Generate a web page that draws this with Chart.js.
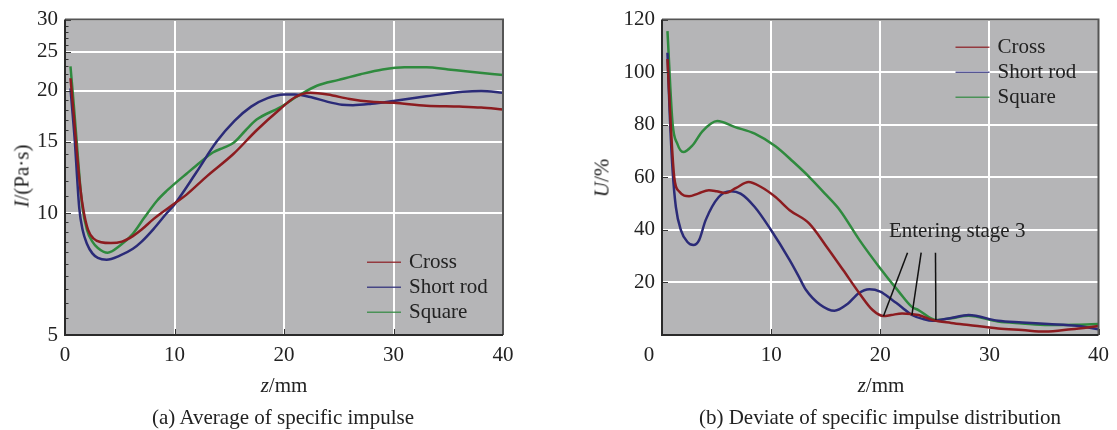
<!DOCTYPE html>
<html>
<head>
<meta charset="utf-8">
<script src="https://cdn.jsdelivr.net/npm/chart.js@4.4.0/dist/chart.umd.min.js"></script>
<style>
  body { margin: 0; background: #fff; }
  #fig { position: relative; width: 1117px; height: 430px; font-family: 'Liberation Serif', 'Times New Roman', serif; color: #222; }
  #fig canvas { position: absolute; top: 0; }
  .lbl { position: absolute; font-size: 21px; line-height: 1; white-space: nowrap; transform: translate(-50%, -50%); }
  .rot { transform: translate(-50%, -50%) rotate(-90deg); }
</style>
</head>
<body>
<div id="fig">
  <canvas id="chartA" width="558" height="430" style="left:0"></canvas>
  <canvas id="chartB" width="559" height="430" style="left:558px"></canvas>
  <div class="lbl rot" style="left:22px; top:176px"><i>I</i>/(Pa·s)</div>
  <div class="lbl" style="left:284px; top:385px"><i>z</i>/mm</div>
  <div class="lbl" style="left:283px; top:417px">(a) Average of specific impulse</div>
  <div class="lbl rot" style="left:602px; top:178px"><i>U</i>/%</div>
  <div class="lbl" style="left:881px; top:385px"><i>z</i>/mm</div>
  <div class="lbl" style="left:880px; top:417px">(b) Deviate of specific impulse distribution</div>
</div>
<script>
// axis ticks
const zTicks = [0, 10, 20, 30, 40];
const iTicks = [5, 10, 15, 20, 25, 30];
const uTicks = [0, 20, 40, 60, 80, 100, 120];

// (a) average specific impulse I (Pa·s) vs z (mm)
const zA_cross = [0.5, 0.8, 1.1, 1.4, 1.7, 2.1, 2.6, 3.3, 4.2, 5.2, 6.2, 7.0, 8.1, 10.0, 11.1, 13.0, 15.4, 17.5, 19.6, 21.0, 22.4, 24.0, 26.0, 28.0, 30.0, 33.0, 36.0, 38.0, 40.0];
const iA_cross = [21.5, 17.5, 14.0, 11.5, 10.1, 9.1, 8.65, 8.47, 8.43, 8.5, 8.77, 9.1, 9.67, 10.55, 11.1, 12.35, 14.0, 16.0, 18.0, 19.3, 19.8, 19.6, 19.1, 18.8, 18.7, 18.4, 18.3, 18.2, 18.0];

const zA_rod = [0.5, 0.7, 0.9, 1.1, 1.3, 1.6, 2.0, 2.5, 3.0, 3.8, 5.0, 6.2, 7.0, 8.1, 9.3, 10.0, 12.0, 13.85, 15.5, 17.0, 18.5, 20.0, 21.0, 22.5, 24.0, 25.3, 26.3, 28.0, 30.0, 33.0, 36.3, 38.0, 40.0];
const iA_rod = [20.3, 17.5, 15.0, 12.3, 10.3, 9.1, 8.4, 7.95, 7.75, 7.67, 7.85, 8.16, 8.5, 9.14, 10.0, 10.5, 12.6, 15.0, 16.9, 18.3, 19.2, 19.6, 19.6, 19.3, 18.8, 18.5, 18.45, 18.6, 18.9, 19.4, 19.9, 20.0, 19.8];

const zA_square = [0.5, 0.8, 1.07, 1.35, 1.6, 2.0, 2.5, 3.0, 3.9, 5.0, 6.2, 7.2, 8.4, 9.3, 10.0, 11.1, 12.3, 13.5, 14.5, 15.4, 16.5, 17.5, 19.6, 21.5, 23.0, 25.0, 27.0, 29.0, 31.0, 33.0, 35.0, 37.0, 40.0];
const iA_square = [23.0, 18.5, 15.0, 12.0, 10.3, 9.1, 8.5, 8.2, 7.98, 8.3, 8.89, 9.7, 10.72, 11.35, 11.8, 12.5, 13.3, 14.1, 14.5, 14.9, 16.0, 17.0, 18.2, 19.6, 20.6, 21.3, 22.0, 22.6, 22.9, 22.9, 22.6, 22.3, 21.9];

// (b) deviation U (%) vs z (mm)
const zB_cross = [0.5, 0.8, 1.12, 1.6, 2.48, 3.3, 4.3, 5.0, 5.8, 6.8, 7.94, 9.0, 10.4, 11.7, 13.5, 15.1, 16.6, 18.1, 19.3, 20.3, 21.0, 22.0, 23.5, 24.8, 26.5, 28.1, 30.8, 33.0, 35.1, 37.5, 40.0];
const uB_cross = [105, 80, 60.1, 54.5, 52.8, 53.8, 55.1, 54.7, 54.0, 56.0, 58.2, 56.5, 52.5, 47.5, 42.4, 33.5, 24.7, 15.8, 9.5, 7.2, 7.6, 8.2, 7.6, 5.7, 4.6, 3.8, 2.5, 1.9, 1.3, 2.2, 3.4];

const zB_rod = [0.5, 0.7, 0.97, 1.27, 1.73, 2.33, 2.88, 3.4, 4.0, 5.2, 6.27, 7.2, 8.5, 9.9, 11.7, 12.5, 13.2, 14.5, 15.8, 17.0, 18.0, 19.0, 20.0, 21.1, 22.0, 22.9, 24.0, 24.8, 26.5, 28.1, 30.8, 33.0, 35.4, 38.0, 40.0];
const uB_rod = [107.4, 85, 62.7, 48.7, 39.9, 35.4, 34.2, 36.1, 43.7, 52.5, 54.7, 53.8, 48.7, 40.5, 28.5, 22.5, 17.1, 11.5, 9.2, 11.8, 15.8, 17.4, 16.5, 13.3, 10.5, 7.6, 6.0, 5.4, 6.5, 7.6, 5.4, 4.8, 4.2, 3.5, 2.2];

const zB_square = [0.5, 0.97, 1.4, 1.94, 2.8, 3.7, 5.06, 6.7, 8.5, 10.4, 12.0, 13.5, 15.0, 16.3, 18.1, 19.9, 21.7, 22.9, 23.5, 25.1, 26.5, 28.1, 30.8, 33.0, 35.4, 38.0, 40.0];
const uB_square = [115.6, 80.4, 72.8, 69.6, 72.2, 77.5, 81.4, 79.1, 76.6, 71.8, 66, 60.1, 53.5, 47.5, 36.1, 25.9, 16.5, 10.7, 9.5, 5.7, 6.4, 7.3, 5.1, 4.4, 3.8, 3.9, 4.2];

// "Entering stage 3" callout: label position and where each leader starts (data units)
const stageText = 'Entering stage 3';
const stageLabelAt = [27.05, 39.2];
const stageLeaderTops = [[22.5, 31.3], [23.75, 31.3], [25.06, 31.3]];
const stageZ = [20.3, 22.9, 25.1]; // cross, short rod, square

const colCross = '#8c1c20';
const colRod = '#2b2b78';
const colSquare = '#2f8a3e';
const serif = "'Liberation Serif', 'Times New Roman', serif";
const tickFont = { family: serif, size: 21 };

function pts(zs, vs) {
  return zs.map((z, k) => ({ x: z, y: vs[k] }));
}

function line(label, zs, vs, color) {
  return {
    label: label,
    data: pts(zs, vs),
    borderColor: color,
    backgroundColor: color,
    borderWidth: 2.5,
    pointRadius: 0,
    cubicInterpolationMode: 'monotone',
    fill: false
  };
}

// grey plot background
const plotBg = {
  id: 'plotBg',
  beforeDraw(chart) {
    const a = chart.chartArea, ctx = chart.ctx;
    ctx.save();
    ctx.fillStyle = '#b5b5b7';
    ctx.fillRect(a.left, a.top, a.right - a.left, a.bottom - a.top);
    ctx.restore();
  }
};

// frame around the plot with inward tick marks
const frame = {
  id: 'frame',
  afterDatasetsDraw(chart, args, opts) {
    const a = chart.chartArea, ctx = chart.ctx;
    const xs = chart.scales.x, ys = chart.scales.y;
    ctx.save();
    ctx.strokeStyle = '#333';
    ctx.lineWidth = 1;
    ctx.beginPath();
    zTicks.forEach(v => {
      const px = Math.round(xs.getPixelForValue(v)) + 0.5;
      ctx.moveTo(px, a.bottom); ctx.lineTo(px, a.bottom - 6);
    });
    opts.major.forEach(v => {
      const py = Math.round(ys.getPixelForValue(v)) + 0.5;
      ctx.moveTo(a.left, py); ctx.lineTo(a.left + 6, py);
    });
    (opts.minor || []).forEach(v => {
      const py = Math.round(ys.getPixelForValue(v)) + 0.5;
      ctx.moveTo(a.left, py); ctx.lineTo(a.left + 3.5, py);
    });
    ctx.stroke();

    ctx.lineWidth = 2;
    ctx.strokeStyle = '#555';
    ctx.beginPath();
    ctx.moveTo(a.left, a.top); ctx.lineTo(a.right, a.top); ctx.lineTo(a.right, a.bottom);
    ctx.stroke();
    ctx.strokeStyle = '#2a2a2a';
    ctx.beginPath();
    ctx.moveTo(a.left, a.top); ctx.lineTo(a.left, a.bottom); ctx.lineTo(a.right, a.bottom);
    ctx.stroke();
    ctx.restore();
  }
};

// legend drawn inside the plot area
const innerLegend = {
  id: 'innerLegend',
  afterDatasetsDraw(chart, args, opts) {
    const a = chart.chartArea, ctx = chart.ctx;
    ctx.save();
    ctx.font = '21px ' + serif;
    ctx.textBaseline = 'middle';
    ctx.fillStyle = '#222';
    chart.data.datasets.forEach((ds, i) => {
      const y = a.top + opts.top + i * 25;
      const x0 = a.right - opts.fromRight;
      ctx.strokeStyle = ds.borderColor;
      ctx.globalAlpha = 0.8;
      ctx.lineWidth = 1.5;
      ctx.beginPath();
      ctx.moveTo(x0, y); ctx.lineTo(x0 + 34, y);
      ctx.stroke();
      ctx.globalAlpha = 1;
      ctx.fillText(ds.label, x0 + 42, y);
    });
    ctx.restore();
  }
};

// callout with leader lines to the three curves
const stageNote = {
  id: 'stageNote',
  afterDatasetsDraw(chart) {
    if (chart.canvas.id !== 'chartB') return;
    const xs = chart.scales.x, ys = chart.scales.y, ctx = chart.ctx;
    ctx.save();
    ctx.font = '21px ' + serif;
    ctx.textAlign = 'center';
    ctx.textBaseline = 'middle';
    ctx.fillStyle = '#222';
    ctx.fillText(stageText, xs.getPixelForValue(stageLabelAt[0]), ys.getPixelForValue(stageLabelAt[1]));
    ctx.strokeStyle = '#111';
    ctx.lineWidth = 1.5;
    chart.data.datasets.forEach((ds, i) => {
      const end = ds.data.find(p => p.x === stageZ[i]);
      ctx.beginPath();
      ctx.moveTo(xs.getPixelForValue(stageLeaderTops[i][0]), ys.getPixelForValue(stageLeaderTops[i][1]));
      ctx.lineTo(xs.getPixelForValue(end.x), ys.getPixelForValue(end.y));
      ctx.stroke();
    });
    ctx.restore();
  }
};

function xScale(originLabel) {
  return {
    type: 'linear', min: 0, max: 40,
    afterBuildTicks: s => { s.ticks = zTicks.map(v => ({ value: v })); },
    afterFit: s => { s.height = 95; },
    grid: { color: '#ffffff', lineWidth: 2, drawTicks: false },
    border: { display: false },
    ticks: {
      color: '#222', font: tickFont, padding: 8, maxRotation: 0,
      callback: v => (v === 0 ? originLabel : String(v))
    }
  };
}

const minorA = [];
for (let v = 5.5; v < 10; v += 0.5) minorA.push(v);
for (let v = 11; v < 30; v++) if (v % 5) minorA.push(v);

new Chart(document.getElementById('chartA'), {
  type: 'line',
  data: {
    datasets: [
      line('Cross', zA_cross, iA_cross, colCross),
      line('Short rod', zA_rod, iA_rod, colRod),
      line('Square', zA_square, iA_square, colSquare)
    ]
  },
  options: {
    responsive: false,
    animation: false,
    events: [],
    layout: { padding: { left: 0, right: 55, top: 18, bottom: 0 } },
    scales: {
      x: xScale('0'),
      y: {
        type: 'logarithmic', min: 5, max: 30,
        afterBuildTicks: s => { s.ticks = iTicks.map(v => ({ value: v })); },
        afterFit: s => { s.width = 65; },
        grid: { color: '#ffffff', lineWidth: 2, drawTicks: false },
        border: { display: false },
        ticks: { color: '#222', font: tickFont, padding: 7, callback: v => String(v) }
      }
    },
    plugins: {
      legend: { display: false },
      tooltip: { enabled: false },
      frame: { major: iTicks, minor: minorA },
      innerLegend: { top: 242.7, fromRight: 136 }
    }
  },
  plugins: [plotBg, frame, innerLegend]
});

new Chart(document.getElementById('chartB'), {
  type: 'line',
  data: {
    datasets: [
      line('Cross', zB_cross, uB_cross, colCross),
      line('Short rod', zB_rod, uB_rod, colRod),
      line('Square', zB_square, uB_square, colSquare)
    ]
  },
  options: {
    responsive: false,
    animation: false,
    events: [],
    layout: { padding: { left: 0, right: 16, top: 18, bottom: 0 } },
    scales: {
      // origin label sits a little left of the corner here
      x: xScale('0     '),
      y: {
        type: 'linear', min: 0, max: 120,
        afterBuildTicks: s => { s.ticks = uTicks.map(v => ({ value: v })); },
        afterFit: s => { s.width = 104; },
        grid: { color: '#ffffff', lineWidth: 2, drawTicks: false },
        border: { display: false },
        ticks: { color: '#222', font: tickFont, padding: 7, callback: v => (v === 0 ? '' : String(v)) }
      }
    },
    plugins: {
      legend: { display: false },
      tooltip: { enabled: false },
      frame: { major: uTicks },
      innerLegend: { top: 27.7, fromRight: 143 }
    }
  },
  plugins: [plotBg, frame, innerLegend, stageNote]
});
</script>
</body>
</html>
